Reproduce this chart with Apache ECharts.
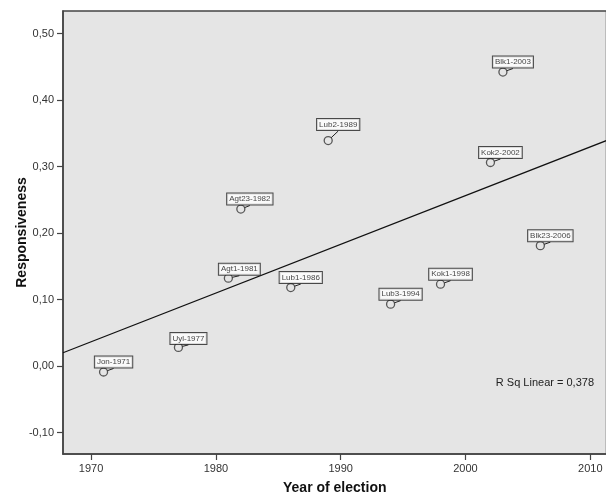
<!DOCTYPE html>
<html>
<head>
<meta charset="utf-8">
<script src="https://cdn.jsdelivr.net/npm/echarts@6/dist/echarts.min.js"></script>
<style>
html,body{margin:0;padding:0;background:#fff;}
#c{width:606px;height:495px;}
</style>
</head>
<body>
<div id="c"></div>
<script>
// Data
const labels = ['Jon-1971','Uyl-1977','Agt1-1981','Agt23-1982','Lub1-1986','Lub2-1989','Lub3-1994','Kok1-1998','Kok2-2002','Blk1-2003','Blk23-2006'];
const years = [1971, 1977, 1981, 1982, 1986, 1989, 1994, 1998, 2002, 2003, 2006];
const responsiveness = [-0.009, 0.028, 0.132, 0.236, 0.118, 0.339, 0.093, 0.123, 0.306, 0.442, 0.181];
const fitYears = [1967.75, 2011.3];
const fitValues = [0.020, 0.339];
const xTicks = [1970, 1980, 1990, 2000, 2010];
const yTicks = [-0.1, 0, 0.1, 0.2, 0.3, 0.4, 0.5];
const rSqText = 'R Sq Linear = 0,378';

const labelShift = [[10,-10],[10,-9],[11,-9],[9,-10],[10,-10],[10,-16],[10,-10],[10,-10],[10,-10],[10,-10],[10,-10]];

const chart = echarts.init(document.getElementById('c'), null, {renderer:'canvas'});
const font = 'Arial, "Liberation Sans", Helvetica, sans-serif';
const axisColor = '#444';

chart.setOption({
  animation: false,
  grid: {
    left: 63, top: 11, width: 543.5, height: 443,
    containLabel: false, outerBoundsMode: 'none',
    show: true, backgroundColor: '#e5e5e5', borderColor: axisColor, borderWidth: 1.5
  },
  xAxis: {
    type: 'value', min: 1967.75, max: 2011.3,
    name: 'Year of election', nameLocation: 'middle', nameGap: 27,
    nameTextStyle: {fontFamily: font, fontWeight: 'bold', fontSize: 14, color: '#111'},
    axisLine: {show: true, onZero: false, lineStyle: {color: axisColor, width: 1.5}},
    axisTick: {show: true, inside: false, length: 6, lineStyle: {color: axisColor, width: 1.2}, customValues: xTicks},
    axisLabel: {fontFamily: font, fontSize: 11, color: '#333', margin: 9, customValues: xTicks, formatter: v => String(v)},
    splitLine: {show: false}
  },
  yAxis: {
    type: 'value', min: -0.1323, max: 0.5338,
    name: 'Responsiveness', nameLocation: 'middle', nameGap: 34, nameMoveOverlap: false,
    nameTextStyle: {fontFamily: font, fontWeight: 'bold', fontSize: 14, color: '#111'},
    axisLine: {show: true, onZero: false, lineStyle: {color: axisColor, width: 1.5}},
    axisTick: {show: true, inside: false, length: 6, lineStyle: {color: axisColor, width: 1.2}, customValues: yTicks},
    axisLabel: {fontFamily: font, fontSize: 11, color: '#333', margin: 9, customValues: yTicks,
      formatter: v => v.toFixed(2).replace('.', ',')},
    splitLine: {show: false}
  },
  series: [
    {
      type: 'line',
      data: fitYears.map((x, i) => [x, fitValues[i]]),
      symbol: 'none',
      lineStyle: {color: '#111', width: 1.2},
      z: 2
    },
    {
      type: 'scatter',
      data: years.map((y, i) => ({value: [y, responsiveness[i]], name: labels[i]})),
      symbol: 'circle',
      symbolSize: 8,
      itemStyle: {color: 'rgba(0,0,0,0)', borderColor: '#333', borderWidth: 1.3},
      label: {
        show: true, position: 'inside', formatter: p => p.name,
        fontFamily: font, fontSize: 8, color: '#111',
        backgroundColor: '#fff', borderColor: '#222', borderWidth: 1,
        padding: [2, 2, 1, 2]
      },
      labelLayout: p => ({dx: labelShift[p.dataIndex][0], dy: labelShift[p.dataIndex][1]}),
      labelLine: {show: true, lineStyle: {color: '#222', width: 1}},
      z: 3
    }
  ],
  graphic: [{
    type: 'text', right: 12, top: 377,
    style: {text: rSqText, font: '11px ' + font, fill: '#222'}
  }]
});
</script>
</body>
</html>
